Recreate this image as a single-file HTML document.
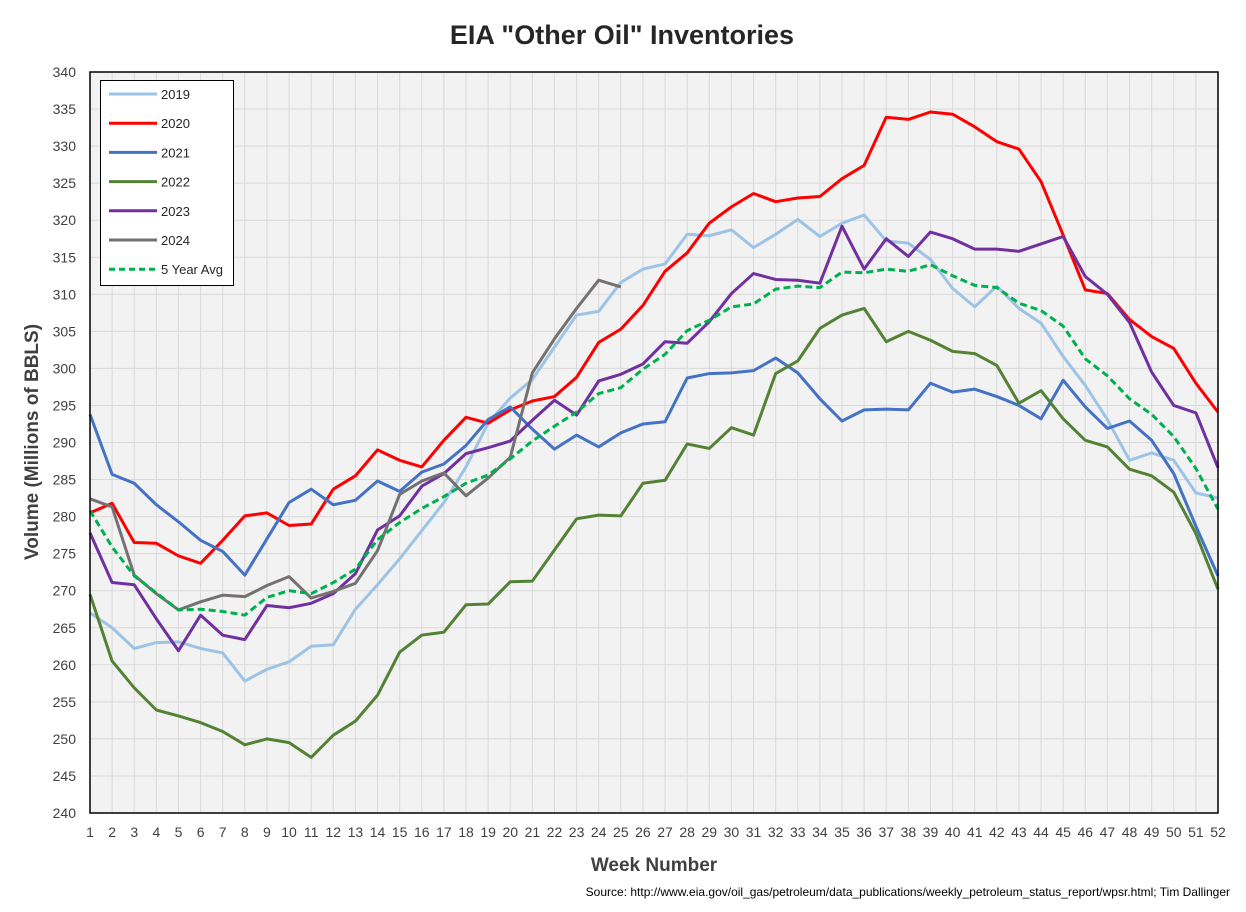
<!DOCTYPE html>
<html><head><meta charset="utf-8"><style>
body{margin:0;background:#fff;width:1246px;height:907px;overflow:hidden;font-family:"Liberation Sans",sans-serif}
</style></head><body>
<svg id="chart" width="1246" height="907" xmlns="http://www.w3.org/2000/svg" font-family="Liberation Sans, sans-serif">
<text x="622" y="44" text-anchor="middle" font-size="27" font-weight="bold" fill="#262626">EIA "Other Oil" Inventories</text>
<rect x="90" y="72" width="1128" height="741" fill="#f2f2f2"/>
<g id="grid"></g>
<g id="series"></g>
<rect x="90" y="72" width="1128" height="741" fill="none" stroke="#000" stroke-width="1.5"/>
<g id="yticks" font-size="14" fill="#404040"></g>
<g id="xticks" font-size="14" fill="#404040"></g>
<text transform="translate(38,442) rotate(-90)" text-anchor="middle" font-size="19" font-weight="bold" fill="#404040">Volume (Millions of BBLS)</text>
<text x="654" y="871" text-anchor="middle" font-size="19" font-weight="bold" fill="#404040">Week Number</text>
<text x="1230" y="896" text-anchor="end" font-size="12" fill="#000">Source: http://www.eia.gov/oil_gas/petroleum/data_publications/weekly_petroleum_status_report/wpsr.html; Tim Dallinger</text>
<g id="legend"></g>
</svg>
<script>
const weeks = Array.from({length:52},(_,i)=>i+1);
const yTicks = [240,245,250,255,260,265,270,275,280,285,290,295,300,305,310,315,320,325,330,335,340];
const seriesNames = ["2019","2020","2021","2022","2023","2024","5 Year Avg"];
const seriesColors = ["#9dc3e6","#ff0000","#4472c4","#548235","#7030a0","#767171","#00b050"];
const v2019 = [267,265,262.2,263,263.1,262.2,261.6,257.8,259.4,260.4,262.5,262.7,267.5,270.8,274.3,278.1,281.9,286.7,292.6,296,298.5,302.9,307.2,307.7,311.6,313.4,314.1,318.1,317.9,318.7,316.3,318.1,320.1,317.8,319.6,320.7,317.2,316.9,314.7,310.8,308.3,311.1,308.1,306.1,301.6,297.7,293.1,287.6,288.6,287.6,283.2,282.5];
const v2020 = [280.5,281.8,276.5,276.4,274.7,273.7,276.8,280.1,280.5,278.8,279,283.7,285.5,289,287.6,286.7,290.3,293.4,292.6,294.4,295.6,296.2,298.8,303.5,305.3,308.5,313.1,315.6,319.6,321.8,323.6,322.5,323,323.2,325.6,327.4,333.9,333.6,334.6,334.3,332.6,330.6,329.6,325.2,318,310.6,310.1,306.6,304.3,302.7,298,294.1];
const v2021 = [293.8,285.7,284.5,281.6,279.3,276.8,275.3,272.1,277,281.9,283.7,281.6,282.2,284.8,283.4,286,287.1,289.6,293.1,294.8,291.8,289.1,291,289.4,291.3,292.5,292.8,298.7,299.3,299.4,299.7,301.4,299.4,295.9,292.9,294.4,294.5,294.4,298,296.8,297.2,296.2,295,293.2,298.4,294.8,291.9,292.9,290.3,285.8,278.7,272];
const v2022 = [269.5,260.5,256.9,253.9,253.1,252.2,251,249.2,250,249.5,247.5,250.5,252.4,255.9,261.7,264,264.4,268.1,268.2,271.2,271.3,275.5,279.7,280.2,280.1,284.5,284.9,289.8,289.2,292,291,299.3,301,305.4,307.2,308.1,303.6,305,303.8,302.3,302,300.4,295.3,297,293.2,290.3,289.4,286.4,285.5,283.3,277.7,270.2];
const v2023 = [277.8,271.1,270.8,266.2,261.9,266.7,264,263.4,268,267.7,268.3,269.6,272.3,278.2,280.1,284.1,285.8,288.5,289.3,290.2,293,295.7,293.7,298.3,299.2,300.6,303.6,303.4,306.3,310.1,312.8,312,311.9,311.5,319.2,313.4,317.5,315.1,318.4,317.5,316.1,316.1,315.8,316.8,317.8,312.4,310,306.2,299.5,295,294,286.6];
const v2024 = [282.4,281.3,272.1,269.6,267.4,268.5,269.4,269.2,270.7,271.9,269,269.9,271,275.4,283,284.8,285.9,282.8,285.2,288,299.4,304,308.1,311.9,311];
const vAvg = [280.8,275.9,272,269.7,267.4,267.5,267.2,266.7,269.1,270,269.6,271.1,272.9,276.9,279.2,281.1,282.7,284.5,285.6,287.8,290.2,292.2,294.1,296.6,297.4,299.9,301.9,305.1,306.5,308.3,308.7,310.7,311.1,310.9,313,312.9,313.4,313.1,314,312.5,311.2,310.9,308.8,307.8,305.7,301.3,299,295.9,293.8,290.8,286.5,281];
const allSeries = [v2019,v2020,v2021,v2022,v2023,v2024,vAvg];

const NS="http://www.w3.org/2000/svg";
const X0=90,X1=1218,Y0=813,Y1=72,YMIN=240,YMAX=340;
const xs=w=>X0+(w-1)*(X1-X0)/(weeks.length-1);
const ys=v=>Y0-(v-YMIN)*(Y0-Y1)/(YMAX-YMIN);
function mk(tag,attrs,parent){const e=document.createElementNS(NS,tag);for(const k in attrs)e.setAttribute(k,attrs[k]);parent.appendChild(e);return e;}
const grid=document.getElementById('grid');
weeks.forEach(w=>{
  const l=mk('line',{x1:xs(w),x2:xs(w),y1:Y1,y2:Y0,stroke:'#d9d9d9','stroke-width':1},grid);
  
  
  const t=mk('text',{x:xs(w),y:Y0+24,'text-anchor':'middle'},document.getElementById('xticks'));
  t.textContent=w;
  
  
});
yTicks.forEach(v=>{
  const l=mk('line',{x1:X0,x2:X1,y1:ys(v),y2:ys(v),stroke:'#d9d9d9','stroke-width':1},grid);
  
  
  const t=mk('text',{x:X0-14,y:ys(v)+5,'text-anchor':'end'},document.getElementById('yticks'));
  t.textContent=v;
  
  
});
const sg=document.getElementById('series');
allSeries.forEach((arr,i)=>{
  const pts=arr.map((v,j)=>xs(weeks[j])+','+ys(v)).join(' ');
  const attrs={points:pts,fill:'none',stroke:seriesColors[i],'stroke-width':3,'stroke-linejoin':'round'};
  if(i===6)attrs['stroke-dasharray']='7,4';
  const p=mk('polyline',attrs,sg);
  
  
});
const lg=document.getElementById('legend');
const box=mk('rect',{x:100.5,y:80.5,width:133,height:205,fill:'#fff',stroke:'#000','stroke-width':1},lg);


seriesNames.forEach((n,i)=>{
  const y=94+i*29.2;
  const a={x1:109,x2:157,y1:y,y2:y,stroke:seriesColors[i],'stroke-width':3};
  if(i===6)a['stroke-dasharray']='6,4';
  const l=mk('line',a,lg);
  
  
  const t=mk('text',{x:161,y:y+5,'font-size':13,fill:'#262626'},lg);
  t.textContent=n;
  
  
});
</script>
</body></html>
